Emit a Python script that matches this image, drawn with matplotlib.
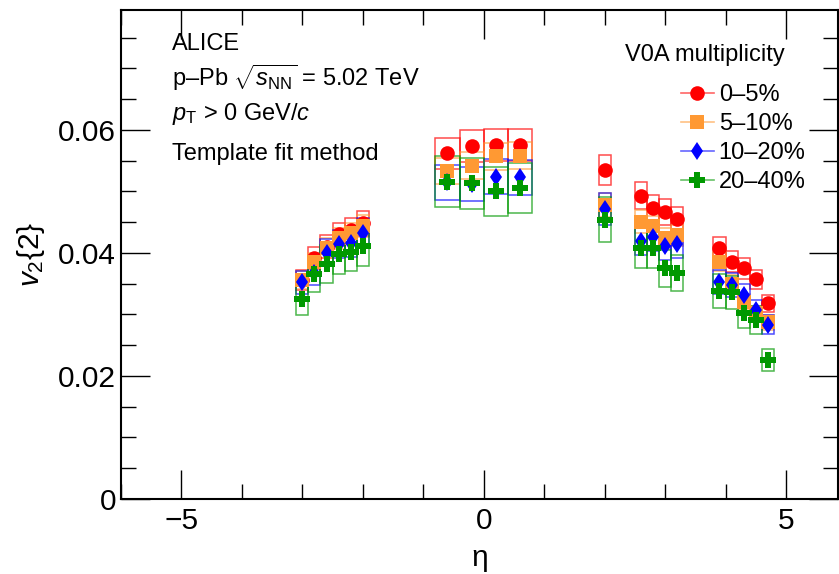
import matplotlib
matplotlib.use("Agg")
import matplotlib.pyplot as plt
from matplotlib.patches import Rectangle
from matplotlib.lines import Line2D
from matplotlib.ticker import MultipleLocator
import numpy as np

plt.rcParams['font.family'] = ['Liberation Sans', 'DejaVu Sans']
plt.rcParams['mathtext.fontset'] = 'custom'
plt.rcParams['mathtext.rm'] = 'Liberation Sans'
plt.rcParams['mathtext.it'] = 'Liberation Sans:italic'

# pseudorapidity bins
eta = np.array([-3.0, -2.8, -2.6, -2.4, -2.2, -2.0,
                -0.6, -0.2, 0.2, 0.6,
                2.0, 2.6, 2.8, 3.0, 3.2, 3.9, 4.1, 4.3, 4.5, 4.7])

v2_0_5 = [0.0356, 0.0392, 0.0410, 0.0430, 0.0437, 0.0448,
          0.0562, 0.0574, 0.0576, 0.0576,
          0.0535, 0.0493, 0.0473, 0.0466, 0.0455, 0.0408, 0.0386, 0.0375, 0.0357, 0.0318]
v2_5_10 = [0.0356, 0.0385, 0.0408, 0.0424, 0.0432, 0.0444,
           0.0533, 0.0542, 0.0557, 0.0558,
           0.0478, 0.0451, 0.0443, 0.0424, 0.0429, 0.0386, 0.0350, 0.0321, 0.0302, 0.0287]
v2_10_20 = [0.0352, 0.0368, 0.0400, 0.0415, 0.0416, 0.0433,
            0.0515, 0.0512, 0.0524, 0.0523,
            0.0471, 0.0420, 0.0426, 0.0411, 0.0415, 0.0353, 0.0348, 0.0332, 0.0307, 0.0283]
v2_20_40 = [0.0325, 0.0365, 0.0382, 0.0398, 0.0402, 0.0411,
            0.0516, 0.0513, 0.0500, 0.0506,
            0.0454, 0.0408, 0.0408, 0.0375, 0.0368, 0.0338, 0.0336, 0.0302, 0.0291, 0.0226]

labels = ['0–5%', '5–10%', '10–20%', '20–40%']
# relative systematic and absolute statistical uncertainty per class
sys_rel = [0.045, 0.04, 0.055, 0.08]
stat_err = [0.0004, 0.0005, 0.0006, 0.0009]

colors = ['#ff0000', '#ff9933', '#0000ff', '#009900']
markers = ['o', 's', 'd', 'P']
msizes = [10.5, 9.5, 9.5, 11]

fig = plt.figure(figsize=(8.39, 5.74), dpi=100)
ax = fig.add_axes([0.1442, 0.1307, 0.8546, 0.8519])

series = [v2_0_5, v2_5_10, v2_10_20, v2_20_40]
width = np.where(np.abs(eta) < 1, 0.4, 0.2)

for vals, lab, c, m, ms, srel, st in zip(series, labels, colors, markers, msizes, sys_rel, stat_err):
    vals = np.array(vals)
    for x, y, w in zip(eta, vals, width):
        ax.add_patch(Rectangle((x - w / 2, y * (1 - srel)), w, 2 * y * srel,
                               fill=False, edgecolor=c, alpha=0.7, lw=1.1, zorder=2))
    ax.errorbar(eta, vals, yerr=st, fmt=m, color=c, ms=ms, mew=0,
                elinewidth=1.0, capsize=0, zorder=3)

ax.set_xlim(-6, 5.86)
ax.set_ylim(0, 0.0795)
ax.xaxis.set_major_locator(MultipleLocator(5))
ax.xaxis.set_minor_locator(MultipleLocator(1))
ax.yaxis.set_major_locator(MultipleLocator(0.02))
ax.yaxis.set_minor_locator(MultipleLocator(0.005))
ax.yaxis.set_major_formatter(matplotlib.ticker.FuncFormatter(lambda v, p: '0' if v == 0 else f'{v:.2f}'))
ax.xaxis.set_major_formatter(matplotlib.ticker.FuncFormatter(lambda v, p: f'{v:.0f}'.replace('-', '−')))
ax.tick_params(which='both', direction='in', top=True, right=True, labelsize=21.5, width=1)
ax.tick_params(which='major', length=21)
ax.tick_params(which='minor', length=11)
ax.tick_params(axis='x', pad=6)
for s in ax.spines.values():
    s.set_linewidth(1.5)

ax.set_xlabel('η', fontsize=21.5, labelpad=6)
ax.set_ylabel(r'$v_{2}\{2\}$', fontsize=21.5, labelpad=8)

tx = 0.071
ax.text(tx, 0.930, 'ALICE', transform=ax.transAxes, fontsize=17, va='center')
ax.text(tx, 0.862, r'p–Pb $\sqrt{s_{\rm NN}}$ = 5.02 TeV', transform=ax.transAxes, fontsize=17, va='center')
ax.text(tx, 0.788, r'$p_{\rm T}$ > 0 GeV/$c$', transform=ax.transAxes, fontsize=17, va='center')
ax.text(tx, 0.706, 'Template fit method', transform=ax.transAxes, fontsize=17, va='center')

ax.text(0.703, 0.908, 'V0A multiplicity', transform=ax.transAxes, fontsize=17, va='center')
handles = [Line2D([0], [0], color=matplotlib.colors.to_rgba(c, 0.6), lw=1.2, marker=m, ms=ms,
                  mew=0, markerfacecolor=c)
           for c, m, ms in zip(colors, markers, msizes)]
leg = ax.legend(handles, labels, loc='upper left', bbox_to_anchor=(0.781, 0.849),
                frameon=False, fontsize=17, handlelength=1.4, handletextpad=0.2,
                labelspacing=0.3, borderaxespad=0, borderpad=0)

fig.savefig('out.png', dpi=100)
